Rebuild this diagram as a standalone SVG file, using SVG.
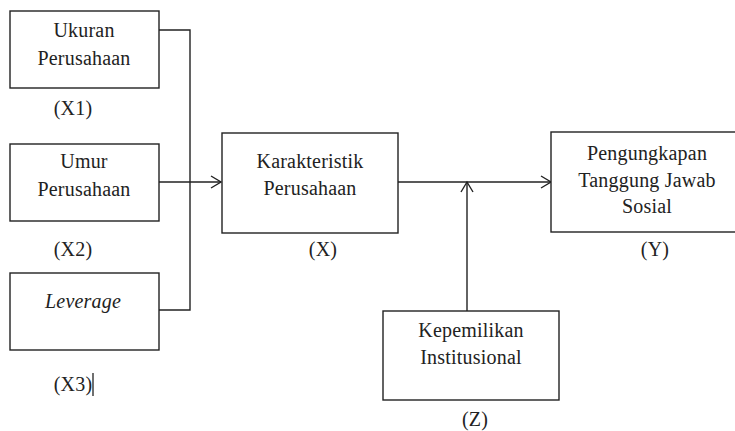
<svg xmlns="http://www.w3.org/2000/svg" width="735" height="431" viewBox="0 0 735 431">
<style>
.box{fill:#fff;stroke:#222;stroke-width:1.4}
text{font-family:'Liberation Serif','Times New Roman',serif;font-size:20px;fill:#222;text-anchor:middle;letter-spacing:0.2px}
.i{font-style:italic}
.c{fill:none;stroke:#222;stroke-width:1.4}
.a{fill:none;stroke:#222;stroke-width:1.4}
</style>
<rect width="735" height="431" fill="#fff"/>
<g id="connectors">
<polyline class="c" points="158,30 190,30 190,310 158,310"/>
<line class="c" x1="158" y1="182" x2="221" y2="182"/>
<polyline class="a" points="211,176 221,182 211,188"/>
<line class="c" x1="398" y1="182" x2="551" y2="182"/>
<polyline class="a" points="541,176 551,182 541,188"/>
<line class="c" x1="467" y1="311" x2="467" y2="182"/>
<polyline class="a" points="461,192 467,182 473,192"/>
</g>
<g id="node-x1" font-family="Liberation Serif, serif">
<rect class="box" x="10" y="11" width="149" height="77"/>
<text x="84" y="37">Ukuran</text>
<text x="84" y="65">Perusahaan</text>
<text x="73" y="115">(X1)</text>
</g>
<g id="node-x2" font-family="Liberation Serif, serif">
<rect class="box" x="10" y="144" width="149" height="77"/>
<text x="84" y="168">Umur</text>
<text x="84" y="196">Perusahaan</text>
<text x="73" y="256">(X2)</text>
</g>
<g id="node-x3" font-family="Liberation Serif, serif">
<rect class="box" x="10" y="273" width="149" height="77"/>
<text class="i" x="83" y="308">Leverage</text>
<text x="73" y="391">(X3)</text>
<line x1="93" y1="373" x2="93" y2="396" stroke="#222" stroke-width="1.3"/>
</g>
<g id="node-x" font-family="Liberation Serif, serif">
<rect class="box" x="222" y="133" width="176" height="100"/>
<text x="310" y="168">Karakteristik</text>
<text x="310" y="195">Perusahaan</text>
<text x="323" y="256">(X)</text>
</g>
<g id="node-y" font-family="Liberation Serif, serif">
<rect class="box" x="551" y="132" width="194" height="100"/>
<text x="647" y="160">Pengungkapan</text>
<text x="647" y="187">Tanggung Jawab</text>
<text x="647" y="213">Sosial</text>
<text x="655" y="256">(Y)</text>
</g>
<g id="node-z" font-family="Liberation Serif, serif">
<rect class="box" x="383" y="311" width="176" height="89"/>
<text x="471" y="337">Kepemilikan</text>
<text x="471" y="364">Institusional</text>
<text x="475" y="426">(Z)</text>
</g>
</svg>
